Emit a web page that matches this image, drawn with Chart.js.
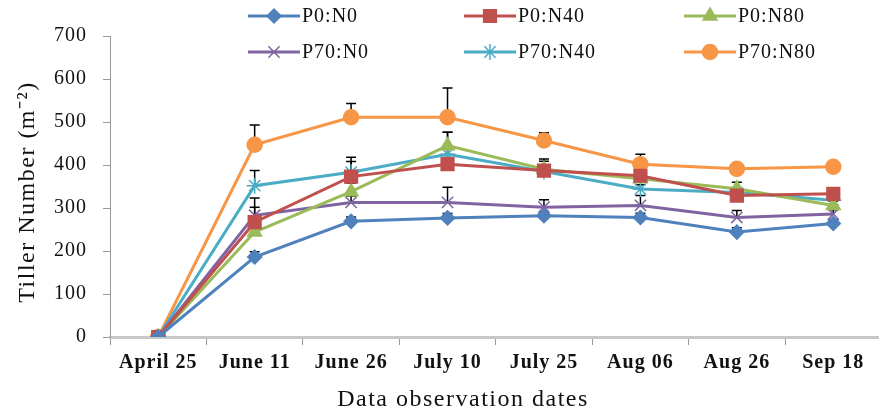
<!DOCTYPE html>
<html>
<head>
<meta charset="utf-8">
<script src="https://cdn.jsdelivr.net/npm/chart.js@4"></script>
<style>
  html, body { margin: 0; padding: 0; background: #fff; overflow: hidden; }
  #wrap { width: 892px; height: 414px; }
</style>
</head>
<body>
<div id="wrap"><canvas id="myChart"></canvas></div>
<script>
// observation dates and tiller numbers (m-2)
const dates = ['April 25', 'June 11', 'June 26', 'July 10', 'July 25', 'Aug 06', 'Aug 26', 'Sep 18'];
const p0n0 = [0, 186, 269, 277, 282, 278, 244, 264];
const p0n40 = [0, 267, 373, 402, 387, 375, 329, 333];
const p0n80 = [0, 244, 338, 445, 390, 368, 345, 306];
const p70n0 = [0, 283, 313, 313, 302, 306, 278, 286];
const p70n40 = [0, 352, 383, 425, 385, 344, 336, 318];
const p70n80 = [0, 447, 511, 511, 457, 402, 391, 396];
// upper error bars
const errP0n0 = [0, 12, 10, 10, 10, 10, 10, 8];
const errP0n40 = [0, 35, 45, 74, 22, 15, 15, 10];
const errP0n80 = [0, 20, 20, 31, 24, 15, 15, 10];
const errP70n0 = [0, 40, 15, 35, 17, 23, 16, 10];
const errP70n40 = [0, 35, 25, 20, 10, 10, 10, 10];
const errP70n80 = [0, 46, 32, 68, 18, 23, 10, 10];
const yTicks = [0, 100, 200, 300, 400, 500, 600, 700];
const xTitle = 'Data observation dates';
const yTitle = 'Tiller Number (m\u207B\u00B2)';

const serif = "'Liberation Serif', 'Times New Roman', serif";

function series(label, data, err, color, style, radius) {
    return {
        label: label,
        data: data,
        err: err,
        borderColor: color,
        backgroundColor: color,
        borderWidth: 3,
        pointStyle: style,
        pointRadius: radius,
        pointHoverRadius: radius,
        pointBorderWidth: 1.5,
        pointBackgroundColor: color,
        pointBorderColor: color,
        tension: 0
    };
}

const datasets = [
    series('P0:N0', p0n0, errP0n0, '#4F81BD', 'rectRot', 7),
    series('P0:N40', p0n40, errP0n40, '#C0504D', 'rect', 9),
    series('P0:N80', p0n80, errP0n80, '#9BBB59', 'triangle', 8),
    series('P70:N0', p70n0, errP70n0, '#8064A2', 'crossRot', 8),
    series('P70:N40', p70n40, errP70n40, '#4BACC6', 'star', 8),
    series('P70:N80', p70n80, errP70n80, '#F79646', 'circle', 7.5)
];

const spacing = {
    id: 'spacing',
    beforeLayout(chart) { chart.ctx.letterSpacing = '1px'; },
    beforeDraw(chart) { chart.ctx.letterSpacing = '1px'; }
};

const errorBars = {
    id: 'errorBars',
    beforeDatasetsDraw(chart) {
        const ctx = chart.ctx;
        const y = chart.scales.y;
        ctx.save();
        ctx.strokeStyle = '#000';
        ctx.lineWidth = 1.5;
        chart.data.datasets.forEach((ds, i) => {
            const meta = chart.getDatasetMeta(i);
            meta.data.forEach((pt, j) => {
                const e = ds.err[j];
                if (!e) return;
                const top = y.getPixelForValue(ds.data[j] + e);
                ctx.beginPath();
                ctx.moveTo(pt.x, pt.y);
                ctx.lineTo(pt.x, top);
                ctx.moveTo(pt.x - 5, top);
                ctx.lineTo(pt.x + 5, top);
                ctx.stroke();
            });
        });
        ctx.restore();
    }
};

// legend in two rows of three, plus the axis titles
const legendBox = {
    id: 'legendBox',
    afterDraw(chart) {
        const ctx = chart.ctx;
        const cols = [248, 464, 684];
        const rows = [16, 52];
        ctx.save();
        ctx.letterSpacing = '1px';
        ctx.font = '20px ' + serif;
        ctx.textBaseline = 'middle';
        chart.data.datasets.forEach((ds, i) => {
            const x = cols[i % 3];
            const yy = rows[Math.floor(i / 3)];
            ctx.strokeStyle = ds.borderColor;
            ctx.lineWidth = 3;
            ctx.beginPath();
            ctx.moveTo(x, yy);
            ctx.lineTo(x + 52, yy);
            ctx.stroke();
            ctx.fillStyle = ds.borderColor;
            ctx.lineWidth = 1.5;
            Chart.helpers.drawPoint(ctx, {
                pointStyle: ds.pointStyle, radius: ds.pointRadius, rotation: 0, borderWidth: 1.5
            }, x + 26, yy);
            ctx.fillStyle = '#111';
            ctx.fillText(ds.label, x + 54, yy + 1);
        });

        ctx.fillStyle = '#111';
        ctx.textAlign = 'center';
        ctx.letterSpacing = '1.5px';
        ctx.font = '24px ' + serif;
        ctx.fillText(xTitle, 463, 400);
        ctx.translate(28, 192);
        ctx.rotate(-Math.PI / 2);
        ctx.fillText(yTitle, 0, 0);
        ctx.restore();
    }
};

new Chart(document.getElementById('myChart'), {
    type: 'line',
    data: { labels: dates, datasets: datasets },
    options: {
        responsive: true,
        maintainAspectRatio: false,
        animation: false,
        layout: { padding: { top: 36, left: 10, right: 2, bottom: 0 } },
        plugins: { legend: { display: false }, tooltip: { enabled: false } },
        scales: {
            x: {
                offset: true,
                afterFit: s => { s.height = 77; },
                grid: { offset: true, drawOnChartArea: false, tickLength: 8, color: '#999', lineWidth: 1 },
                border: { display: true, color: '#c8c8c8', width: 3 },
                ticks: { color: '#111', padding: 6, maxRotation: 0, autoSkip: false, font: { family: serif, size: 20, weight: 'bold' } }
            },
            y: {
                min: 0,
                max: 700,
                afterFit: s => { s.width = 100; },
                afterBuildTicks: s => { s.ticks = yTicks.map(v => ({ value: v })); },
                grid: { drawOnChartArea: false, tickLength: 7, color: '#999' },
                border: { display: true, color: '#999', width: 1 },
                ticks: { color: '#111', padding: 16, font: { family: serif, size: 20 } }
            }
        }
    },
    plugins: [spacing, errorBars, legendBox]
});
</script>
</body>
</html>
